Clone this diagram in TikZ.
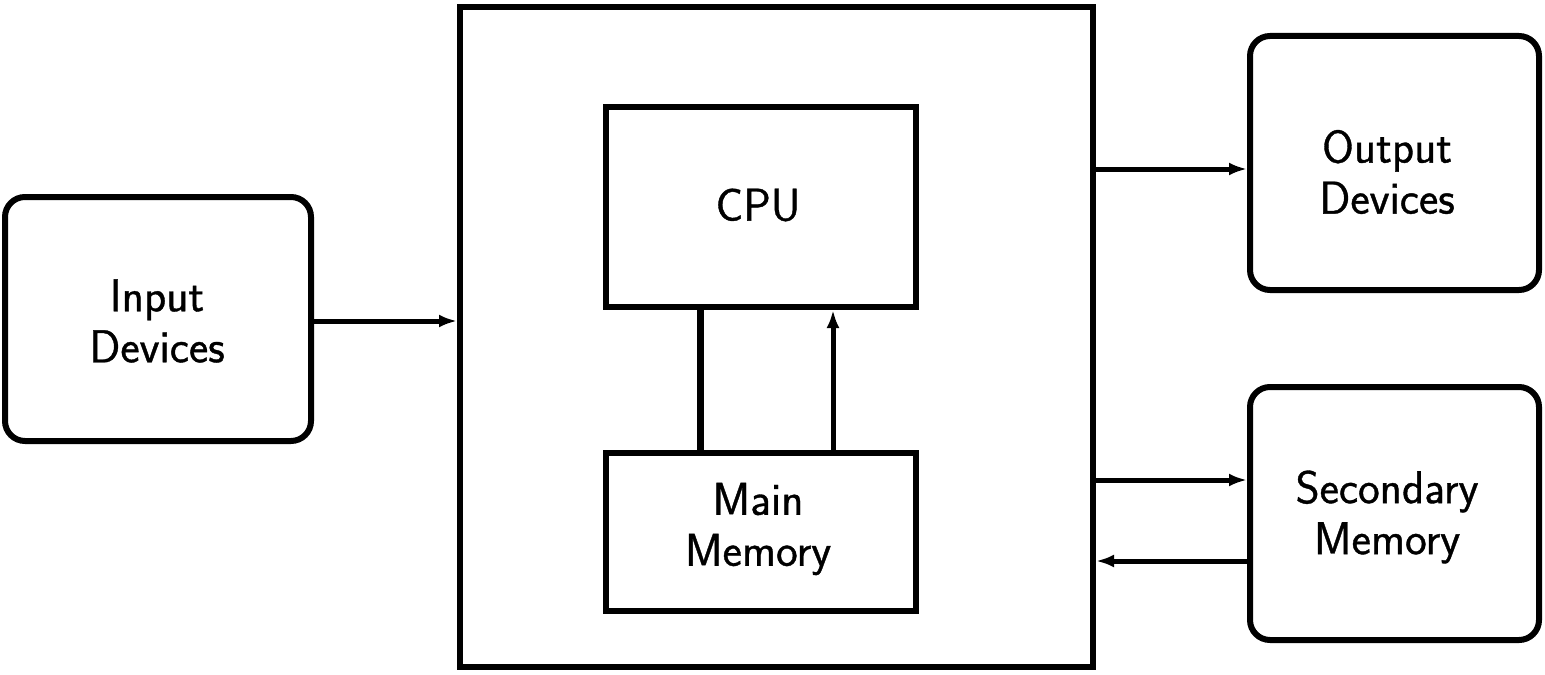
\documentclass[tikz,border=0pt]{standalone}
\usepackage{fontspec}
\newfontfamily\labelfont[FakeBold=0.8]{Latin Modern Sans}
\usetikzlibrary{arrows.meta}
\begin{document}
\begin{tikzpicture}[x=0.5pt,y=-0.5pt,
  every node/.style={font=\labelfont\fontsize{23}{25.5}\selectfont, align=center},
  plainbox/.style={draw, line width=3pt, inner sep=0pt, outer sep=1.5pt},
  roundbox/.style={plainbox, rounded corners=10pt},
  conn/.style={line width=2.5pt, -{Latex[length=9pt,width=6.5pt]}},
  txt/.style={inner sep=0pt}]
\useasboundingbox (0,0) rectangle (1545,674);
\node[roundbox, minimum width=153pt, minimum height=122pt] (inp) at (158,319) {};
\node[txt] (inptxt) at (157,321) {Input\\Devices};
\node[plainbox, minimum width=316.5pt, minimum height=330pt] (big) at (776.5,337) {};
\node[plainbox, minimum width=155pt, minimum height=100pt] (cpu) at (761,207) {};
\node[txt] (cputxt) at (758,205) {CPU};
\node[plainbox, minimum width=155pt, minimum height=79pt] (mem) at (761,532) {};
\node[txt] (memtxt) at (758,529) {Main\\Memory};
\node[roundbox, minimum width=144.5pt, minimum height=127pt] (out) at (1394.5,163) {};
\node[txt] (outtxt) at (1387,172) {Output\\Devices};
\node[roundbox, minimum width=144.5pt, minimum height=126.5pt] (sec) at (1394.5,513.5) {};
\node[txt] (sectxt) at (1387,517) {Secondary\\Memory};
\draw[conn] (inp.east |- 0,321) -- (big.west |- 0,321);
\draw[conn] (big.east |- 0,169) -- (out.west |- 0,169);
\draw[conn] (big.east |- 0,480) -- (sec.west |- 0,480);
\draw[conn] (sec.west |- 0,561) -- (big.east |- 0,561);
\draw[line width=3.5pt] (cpu.south -| 700,0) -- (mem.north -| 700,0);
\draw[conn] (mem.north -| 833,0) -- (cpu.south -| 833,0);
\end{tikzpicture}
\end{document}
